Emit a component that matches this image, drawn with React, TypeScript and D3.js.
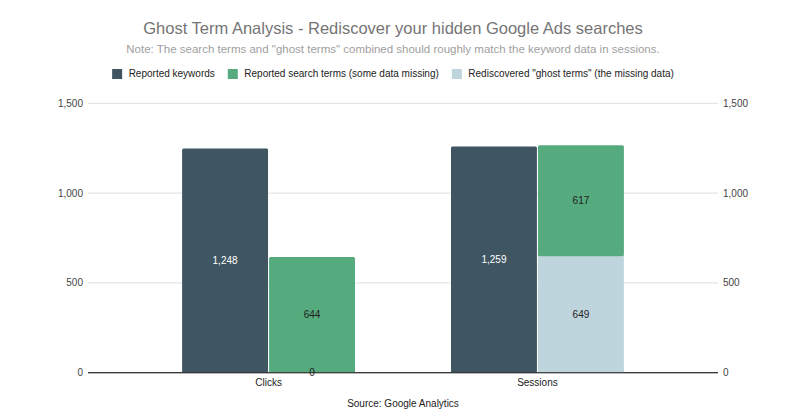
import React, { useEffect, useRef } from "react";
import * as d3 from "d3";

const categories = ["Clicks", "Sessions"];
const reportedKeywords = [1248, 1259];
const reportedSearchTerms = [644, 617];
const ghostTerms = [0, 649];
const yTicks = [0, 500, 1000, 1500];
const seriesNames = [
  "Reported keywords",
  "Reported search terms (some data missing)",
  'Rediscovered "ghost terms" (the missing data)',
];
const seriesColors = ["#3f5662", "#55aa7e", "#bfd5dd"];
const title = "Ghost Term Analysis - Rediscover your hidden Google Ads searches";
const subtitle =
  'Note: The search terms and "ghost terms" combined should roughly match the keyword data in sessions.';
const source = "Source: Google Analytics";

const W = 800;
const H = 417;
const FONT = "'Liberation Sans', Arial, sans-serif";
const CX = 393;

export default function App() {
  const ref = useRef<SVGSVGElement>(null);

  useEffect(() => {
    const svg = d3.select(ref.current);
    svg.selectAll("*").remove();

    const left = 88;
    const right = 718;
    const top = 103.3;
    const bottom = 372.7;

    const y = d3.scaleLinear().domain([0, 1500]).range([bottom, top]);
    const x = d3
      .scaleBand<string>()
      .domain(categories)
      .range([left, right])
      .paddingInner(0.357)
      .paddingOuter(0.35);
    const inner = d3
      .scaleBand<string>()
      .domain(["a", "b"])
      .range([0, x.bandwidth()])
      .paddingInner(0.012);

    svg.append("rect").attr("width", W).attr("height", H).attr("fill", "#fff");

    // title
    svg
      .append("text")
      .attr("x", CX)
      .attr("y", 34)
      .attr("text-anchor", "middle")
      .attr("font-family", FONT)
      .attr("font-size", 16.5)
      .attr("fill", "#757575")
      .text(title);
    svg
      .append("text")
      .attr("x", CX)
      .attr("y", 52.5)
      .attr("text-anchor", "middle")
      .attr("font-family", FONT)
      .attr("font-size", 11.5)
      .attr("fill", "#a0a0a0")
      .text(subtitle);

    // legend
    const lg = svg.append("g");
    let lx = 0;
    seriesNames.forEach((name, i) => {
      const g = lg.append("g").attr("transform", `translate(${lx},0)`);
      g.append("rect")
        .attr("x", 0)
        .attr("y", 69)
        .attr("width", 10)
        .attr("height", 10)
        .attr("fill", seriesColors[i]);
      const t = g
        .append("text")
        .attr("x", 16.5)
        .attr("y", 77)
        .attr("font-family", FONT)
        .attr("font-size", 10)
        .attr("fill", "#222")
        .text(name);
      const tw = (t.node() as SVGTextElement).getComputedTextLength();
      lx += 16.5 + tw + 13;
    });
    const totalW = lx - 13;
    lg.attr("transform", `translate(${CX - totalW / 2},0)`);

    const fmt = d3.format(",");

    // gridlines
    yTicks.forEach((v) => {
      svg
        .append("line")
        .attr("x1", left)
        .attr("x2", right)
        .attr("y1", y(v))
        .attr("y2", y(v))
        .attr("stroke", v === 0 ? "#333" : "#e0e0e0")
        .attr("stroke-width", 1);
      svg
        .append("text")
        .attr("x", left - 5)
        .attr("y", y(v) + 3.5)
        .attr("text-anchor", "end")
        .attr("font-family", FONT)
        .attr("font-size", 10)
        .attr("fill", "#444")
        .text(fmt(v));
      svg
        .append("text")
        .attr("x", right + 5)
        .attr("y", y(v) + 3.5)
        .attr("text-anchor", "start")
        .attr("font-family", FONT)
        .attr("font-size", 10)
        .attr("fill", "#444")
        .text(fmt(v));
    });

    const bars = svg.append("g");
    const labels: { x: number; y: number; text: string; color: string }[] = [];
    categories.forEach((c, i) => {
      const gx = x(c)!;
      const x1 = gx + inner("a")!;
      bars
        .append("rect")
        .attr("x", x1)
        .attr("y", y(reportedKeywords[i]))
        .attr("width", inner.bandwidth())
        .attr("height", y(0) - y(reportedKeywords[i]))
        .attr("rx", 1.5)
        .attr("fill", seriesColors[0]);
      labels.push({
        x: x1 + inner.bandwidth() / 2,
        y: y(reportedKeywords[i] / 2),
        text: fmt(reportedKeywords[i]),
        color: "#fff",
      });
      const x2 = gx + inner("b")!;
      const g0 = 0;
      const g1 = ghostTerms[i];
      const s1 = g1 + reportedSearchTerms[i];
      if (g1 > 0) {
        bars
          .append("rect")
          .attr("x", x2)
          .attr("y", y(g1))
          .attr("width", inner.bandwidth())
          .attr("height", y(g0) - y(g1))
          .attr("fill", seriesColors[2]);
      }
      bars
        .append("rect")
        .attr("x", x2)
        .attr("y", y(s1))
        .attr("width", inner.bandwidth())
        .attr("height", y(g1) - y(s1))
        .attr("rx", 1.5)
        .attr("fill", seriesColors[1]);
      labels.push({
        x: x2 + inner.bandwidth() / 2,
        y: y((g1 + s1) / 2),
        text: fmt(reportedSearchTerms[i]),
        color: "#222",
      });
      labels.push({
        x: x2 + inner.bandwidth() / 2,
        y: y((g0 + g1) / 2),
        text: fmt(ghostTerms[i]),
        color: "#222",
      });
      svg
        .append("text")
        .attr("x", gx + x.bandwidth() / 2)
        .attr("y", 386)
        .attr("text-anchor", "middle")
        .attr("font-family", FONT)
        .attr("font-size", 10)
        .attr("fill", "#222")
        .text(c);
    });

    svg
      .append("line")
      .attr("x1", left)
      .attr("x2", right)
      .attr("y1", y(0))
      .attr("y2", y(0))
      .attr("stroke", "#333")
      .attr("stroke-width", 1);

    labels.forEach((l) => {
      svg
        .append("text")
        .attr("x", l.x)
        .attr("y", l.y + 3.5)
        .attr("text-anchor", "middle")
        .attr("font-family", FONT)
        .attr("font-size", 10)
        .attr("fill", l.color)
        .text(l.text);
    });

    svg
      .append("text")
      .attr("x", CX + 10)
      .attr("y", 406.5)
      .attr("text-anchor", "middle")
      .attr("font-family", FONT)
      .attr("font-size", 10)
      .attr("fill", "#222")
      .text(source);
  }, []);

  return (
    <svg
      ref={ref}
      width={W}
      height={H}
      style={{ position: "absolute", left: 0, top: 0 }}
    />
  );
}
